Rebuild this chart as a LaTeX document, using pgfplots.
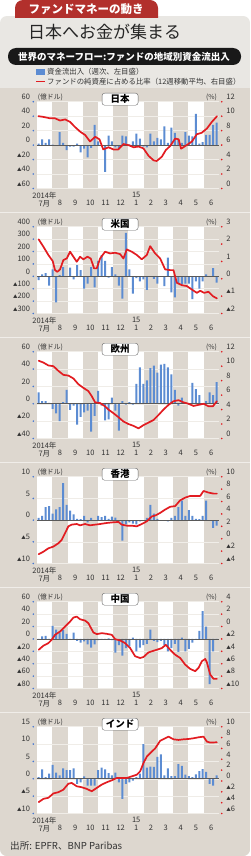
\documentclass[border=0pt]{standalone}
\usepackage{fontspec}
\setmainfont{Noto Sans CJK JP}
\usepackage{pgfplots}
\pgfplotsset{compat=1.18}
\definecolor{bgc}{RGB}{221,215,207}
\definecolor{hdr}{RGB}{233,231,227}
\definecolor{barblue}{RGB}{92,140,210}
\definecolor{dotblue}{RGB}{70,120,210}
\definecolor{linered}{RGB}{226,28,33}
\definecolor{tabred}{RGB}{178,48,44}
\definecolor{gridc}{RGB}{240,237,232}
\definecolor{txt}{RGB}{50,50,50}
\newcommand{\tri}{{\fontsize{4.5}{5}\selectfont ▲}}
\newcommand{\bands}[2]{%
  \fill[white] (axis cs:-0.571,#1) rectangle (axis cs:3.857,#2);
  \fill[white] (axis cs:8.286,#1) rectangle (axis cs:12.571,#2);
  \fill[white] (axis cs:17,#1) rectangle (axis cs:21.286,#2);
  \fill[white] (axis cs:25.714,#1) rectangle (axis cs:30.143,#2);
  \fill[white] (axis cs:34.143,#1) rectangle (axis cs:38.571,#2);
  \fill[white] (axis cs:42.857,#1) rectangle (axis cs:47.286,#2);}
\newcommand{\lgrid}[1]{\pgfplotsinvokeforeach{#1}{%
  \draw[gridc, line width=0.5pt] (axis cs:-0.571,##1) -- (axis cs:51.571,##1);
  \fill[dotblue] ([xshift=-3.4pt]axis cs:-0.571,##1) circle (0.9pt);}}
\newcommand{\rdots}[1]{\pgfplotsinvokeforeach{#1}{%
  \fill[linered] ([xshift=3pt]axis cs:51.571,##1) circle (0.9pt);}}
\newcommand{\zeroline}{\draw[black!65, line width=0.6pt] (axis cs:-0.571,0) -- (axis cs:51.571,0);}
\newcommand{\ptitle}[1]{%
  \node[draw=black!60, fill=white, rounded corners=2.5pt, minimum width=36pt, minimum height=12pt, inner sep=0pt, font=\bfseries\fontsize{9.5}{10}\selectfont] at ([yshift=2.5pt]axis description cs:0.458,1) {#1};
  \node[anchor=base west, inner sep=0pt, font=\fontsize{6.8}{7}\selectfont, text=txt] at ([yshift=2.2pt,xshift=1pt]axis description cs:0,1) {(億ドル)};
  \node[anchor=base east, inner sep=0pt, font=\fontsize{6.8}{7}\selectfont, text=txt] at ([yshift=2.2pt,xshift=-1.5pt]axis description cs:1,1) {(\%)};}
\pgfplotsset{
  mybase/.style={
    anchor=south west, width=182pt, height=86.8pt, scale only axis,
    xmin=-0.571, xmax=51.571, axis line style={draw=none},
    major tick length=0pt, tick style={draw=none}, clip=false,
    tick label style={font=\fontsize{7.5}{8}\selectfont, text=txt},
  },
  leftax/.style={mybase,
    yticklabel style={anchor=base east, inner sep=0pt, xshift=-6.5pt, yshift=2.2pt},
    xtick={1.64,6.07,10.43,14.79,19.14,23.5,27.93,32.14,36.36,40.71,45.07,49.43},
    xticklabels={{2014年\\7月},{\phantom{0}\\8},{\phantom{0}\\9},{\phantom{0}\\10},{\phantom{0}\\11},{\phantom{0}\\12},{15\\1},{\phantom{0}\\2},{\phantom{0}\\3},{\phantom{0}\\4},{\phantom{0}\\5},{\phantom{0}\\6}},
    xticklabel style={anchor=north, inner sep=0pt, yshift=-3pt, align=center},
  },
  rightax/.style={mybase, xtick=\empty, yticklabel pos=right,
    yticklabel style={anchor=base west, inner sep=0pt, xshift=7.5pt, yshift=2.2pt},
  },
  bars/.style={ybar, bar width=2pt, fill=barblue, draw=none},
  redl/.style={linered, line width=1.7pt, line join=round, line cap=round},
}
\begin{document}
\begin{tikzpicture}
\path[use as bounding box] (0,0) rectangle (250pt,-856pt);
\fill[white] (0,0) rectangle (250pt,-856pt);
\begin{scope}
\clip[rounded corners=7pt] (0,-16pt) rectangle (250pt,-856pt);
\fill[hdr] (0,-16pt) rectangle (250pt,-856pt);
\fill[bgc] (0,-87.7pt) rectangle (250pt,-856pt);
\foreach \yy in {212.7,337.7,462.7,587.7,712.7}{\draw[white!55!bgc, line width=1.2pt] (0,-\yy pt) -- (250pt,-\yy pt);}
\end{scope}
\fill[tabred] (15pt,-18pt) {[rounded corners=8pt] -- (15pt,0pt) -- (158pt,0pt)} -- (158pt,-18pt) -- cycle;
\node[text=white, font=\bfseries\fontsize{11.5}{12}\selectfont] at (86pt,-9pt) {ファンドマネーの動き};
\node[anchor=west, inner sep=0pt, font=\fontsize{17}{18}\selectfont, text=black!85] at (28pt,-32pt) {日本へお金が集まる};
\fill[black!90, rounded corners=8pt] (8pt,-48pt) rectangle (241pt,-65pt);
\node[text=white, font=\bfseries\fontsize{9.5}{10}\selectfont] at (124pt,-56.5pt) {世界のマネーフロー:ファンドの地域別資金流出入};
\fill[barblue] (36pt,-69pt) rectangle (45pt,-75pt);
\node[anchor=west, inner sep=0pt, font=\fontsize{7.4}{8}\selectfont, text=txt] at (47pt,-72pt) {資金流出入（週次、左目盛）};
\draw[linered, line width=1.4pt] (36pt,-81.5pt) -- (45pt,-81.5pt);
\node[anchor=west, inner sep=0pt, font=\fontsize{7.4}{8}\selectfont, text=txt] at (47pt,-81.5pt) {ファンドの純資産に占める比率（12週移動平均、右目盛）};
\node[anchor=west, inner sep=0pt, font=\fontsize{9.6}{10}\selectfont, text=txt] at (10pt,-846pt) {出所: EPFR、BNP Paribas};

% ===== Japan =====
\begin{axis}[leftax, at={(36.7pt,-188.5pt)}, ymin=-60, ymax=60, ytick={-60,-40,-20,0,20,40,60},
  yticklabels={\tri 60,\tri 40,\tri 20,0,20,40,60}]
\bands{-60}{60}
\lgrid{-60,-40,-20,0,20,40,60}
\addplot[bars] coordinates {(0,2)(1,8)(2,3)(3,8)(4,0.5)(5,0)(6,18)(7,3)(8,-7)(9,-2)(10,-2)(11,2)(12,-10)(13,-5)(14,-17)(15,-4)(16,28)(17,5)(18,-1)(19,-37)(20,13)(21,5)(22,-3)(23,-6)(24,13)(25,12)(26,1)(27,5)(28,16)(29,9)(30,-2)(31,-3)(32,16)(33,5)(34,10)(35,8)(36,26)(37,3)(38,24)(39,17)(40,7)(41,3)(42,18)(43,13)(44,12)(45,43)(46,2)(47,4)(48,14)(49,14)(50,28)(51,31)};
\zeroline
\end{axis}
\begin{axis}[rightax, at={(36.7pt,-188.5pt)}, ymin=0, ymax=12, ytick={0,2,4,6,8,10,12}, yticklabels={0,2,4,6,8,10,12}]
\rdots{0,2,4,6,8,10,12}
\addplot[redl] coordinates {(-0.1,10.0)(1.3,9.9)(3.3,9.7)(4.7,9.7)(6.1,9.4)(7.6,9.55)(9.0,9.2)(10.4,8.5)(11.9,7.85)(13.3,7.4)(14.7,6.5)(16.2,7.15)(17.4,6.8)(18.5,5.4)(20.0,5.7)(21.4,5.4)(22.8,5.4)(24.3,6.15)(25.7,6.0)(27.2,5.7)(28.6,5.8)(30.0,5.55)(31.5,4.5)(32.9,3.9)(33.8,3.8)(35.3,4.4)(36.4,5.3)(37.7,5.9)(39.1,6.9)(40.1,6.8)(40.8,5.5)(42.4,6.0)(43.9,6.5)(45.3,7.5)(46.7,7.7)(48.2,8.3)(49.6,9.2)(51.1,10.0)};
\ptitle{日本}
\end{axis}

% ===== US =====
\begin{axis}[leftax, at={(36.7pt,-313.5pt)}, ymin=-300, ymax=400, ytick={-300,-200,-100,0,100,200,300,400},
  yticklabels={\tri 300,\tri 200,\tri 100,0,100,200,300,400}]
\bands{-300}{400}
\lgrid{-300,-200,-100,0,100,200,300,400}
\addplot[bars] coordinates {(0,-30)(1,15)(2,25)(3,-75)(4,55)(5,-210)(6,10)(7,75)(8,0)(9,70)(10,-25)(11,90)(12,50)(13,-100)(14,-60)(15,75)(16,-90)(17,125)(18,170)(19,125)(20,-10)(21,75)(22,15)(23,-75)(24,-180)(25,350)(26,55)(27,-140)(28,-15)(29,-40)(30,-25)(31,-110)(32,0)(33,-20)(34,-60)(35,0)(36,-80)(37,150)(38,-130)(39,-170)(40,-60)(41,-65)(42,-60)(43,-60)(44,-185)(45,-40)(46,-100)(47,-40)(48,15)(49,0)(50,65)(51,-50)};
\zeroline
\end{axis}
\begin{axis}[rightax, at={(36.7pt,-313.5pt)}, ymin=-2, ymax=3, ytick={-2,-1,0,1,2,3}, yticklabels={\tri 2,\tri 1,0,1,2,3}]
\rdots{-2,-1,0,1,2,3}
\addplot[redl] coordinates {(0,2.27)(1.34,1.85)(2.77,1.37)(4.02,1.02)(4.68,0.5)(5.35,0.4)(6.12,0.54)(7.07,1.08)(8.03,1.17)(8.99,1.56)(9.94,1.27)(10.9,0.98)(11.85,1.27)(12.81,1.12)(13.96,1.27)(14.91,1.17)(15.87,0.6)(16.63,0.6)(17.59,1.17)(19.02,1.56)(20.46,1.46)(21.89,1.5)(23.33,1.42)(24.28,1.17)(25.24,1.69)(26.67,1.56)(28.11,1.37)(29.54,1.12)(30.98,1.37)(31.93,1.88)(33.37,1.46)(34.8,1.17)(36.23,0.54)(37.67,0.5)(38.62,0.5)(39.58,-0.23)(41.01,-0.37)(42.45,-0.42)(43.88,-0.62)(45.32,-0.81)(46.27,-0.69)(47.42,-0.81)(48.66,-0.75)(49.9,-1.0)(51.05,-1.13)};
\ptitle{米国}
\end{axis}

% ===== Europe =====
\begin{axis}[leftax, at={(36.7pt,-438.5pt)}, ymin=-40, ymax=60, ytick={-40,-20,0,20,40,60},
  yticklabels={\tri 40,\tri 20,0,20,40,60}]
\bands{-40}{60}
\lgrid{-40,-20,0,20,40,60}
\addplot[bars] coordinates {(0,13)(1,3)(2,3)(3,1)(4,-6)(5,-11)(6,-20)(7,2)(8,16)(9,-7)(10,-2)(11,-24)(12,-15)(13,-10)(14,-8)(15,-32)(16,-14)(17,15)(18,-2)(19,-19)(20,-18)(21,7)(22,-8)(23,-31)(24,3)(25,-1)(26,2)(27,-1)(28,23)(29,42)(30,23)(31,27)(32,41)(33,44)(34,36)(35,45)(36,46)(37,42)(38,34)(39,16)(40,-2)(41,7)(42,0)(43,-1)(44,24)(45,17)(46,10)(47,0)(48,3)(49,13)(50,10)(51,25)};
\zeroline
\end{axis}
\begin{axis}[rightax, at={(36.7pt,-438.5pt)}, ymin=0, ymax=12, ytick={0,2,4,6,8,10,12}, yticklabels={0,2,4,6,8,10,12}]
\rdots{0,2,4,6,8,10,12}
\addplot[redl] coordinates {(0,10.75)(1.34,10.5)(2.77,10.1)(4.21,10.0)(5.64,9.35)(7.07,8.8)(8.51,8.7)(9.94,8.3)(11.38,7.5)(12.81,7.0)(14.24,6.55)(15.2,5.85)(16.16,5.0)(17.59,4.9)(19.02,4.45)(19.98,4.0)(21.41,3.5)(22.85,2.95)(24.28,2.35)(25.72,2.0)(27.15,1.75)(28.59,1.4)(30.02,1.85)(31.45,2.2)(32.89,2.55)(34.32,3.25)(35.76,4.0)(37.19,4.65)(38.62,5.15)(40.06,5.3)(41.49,5.0)(42.93,4.8)(44.36,4.5)(45.79,4.65)(47.23,4.8)(48.66,4.45)(49.9,4.45)(51.05,5.15)};
\ptitle{欧州}
\end{axis}

% ===== Hong Kong =====
\begin{axis}[leftax, at={(36.7pt,-563.5pt)}, ymin=-10, ymax=10, ytick={-10,-5,0,5,10},
  yticklabels={\tri 10,\tri 5,0,5,10}]
\bands{-10}{10}
\lgrid{-10,-5,0,5,10}
\addplot[bars] coordinates {(0,0.5)(1,1)(2,3)(3,3.2)(4,1.5)(5,2.5)(6,3)(7,8.5)(8,3.5)(9,2.2)(10,1.3)(11,0.3)(12,0.2)(13,1)(14,-0.5)(15,0.5)(16,0)(17,1)(18,0.7)(19,1)(20,0.3)(21,0.8)(22,0.6)(23,-0.3)(24,-4.7)(25,-1)(26,-0.5)(27,-0.8)(28,-1)(29,-0.3)(30,0)(31,0.5)(32,3.5)(33,1.5)(34,0.3)(35,0)(36,0)(37,-0.3)(38,0.5)(39,1)(40,3)(41,4.5)(42,1)(43,2.3)(44,1)(45,0.3)(46,0.2)(47,1)(48,4.5)(49,0)(50,-1.8)(51,-1.3)};
\zeroline
\end{axis}
\begin{axis}[rightax, at={(36.7pt,-563.5pt)}, ymin=-4, ymax=10, ytick={-4,-2,0,2,4,6,8,10}, yticklabels={\tri 4,\tri 2,0,2,4,6,8,10}]
\rdots{-4,-2,0,2,4,6,8,10}
\addplot[redl] coordinates {(0,-2.5)(1.34,-2.1)(2.77,-1.55)(4.21,-1.27)(5.64,-0.73)(6.6,-0.18)(7.55,0.9)(8.51,2.0)(9.46,2.27)(10.9,2.37)(11.85,2.16)(13.29,2.37)(14.72,2.16)(16.16,2.27)(17.59,2.37)(19.5,2.54)(21.41,2.65)(22.85,2.7)(23.8,2.27)(25.24,2.1)(26.67,2.1)(28.11,2.0)(29.54,2.37)(30.98,2.8)(32.41,3.6)(33.37,3.73)(34.8,4.16)(36.23,4.7)(37.67,5.15)(39.1,5.26)(40.54,6.2)(41.97,6.62)(43.4,6.9)(44.84,6.9)(46.27,6.9)(47.23,7.7)(48.66,7.44)(50.1,7.27)(51.05,7.27)};
\ptitle{香港}
\end{axis}

% ===== China =====
\begin{axis}[leftax, at={(36.7pt,-688.5pt)}, ymin=-80, ymax=60, ytick={-80,-60,-40,-20,0,20,40,60},
  yticklabels={\tri 80,\tri 60,\tri 40,\tri 20,0,20,40,60}]
\bands{-80}{60}
\lgrid{-80,-60,-40,-20,0,20,40,60}
\addplot[bars] coordinates {(0,0)(1,4)(2,5)(3,0)(4,21)(5,15)(6,10)(7,14)(8,8)(9,0)(10,10)(11,-3)(12,-6)(13,-4)(14,-9)(15,-14)(16,-9)(17,-2)(18,-1)(19,0)(20,1)(21,-2)(22,-22)(23,-10)(24,-27)(25,-15)(26,-12)(27,2)(28,-20)(29,-14)(30,-10)(31,-8)(32,15)(33,-3)(34,-5)(35,-3)(36,-10)(37,-20)(38,-15)(39,-8)(40,-21)(41,2)(42,-20)(43,-16)(44,-6)(45,0)(46,13)(47,45)(48,20)(49,-73)(50,-20)(51,0)};
\zeroline
\end{axis}
\begin{axis}[rightax, at={(36.7pt,-688.5pt)}, ymin=-10, ymax=4, ytick={-10,-8,-6,-4,-2,0,2,4}, yticklabels={\tri 10,\tri 8,\tri 6,\tri 4,\tri 2,0,2,4}]
\rdots{-10,-8,-6,-4,-2,0,2,4}
\addplot[redl] coordinates {(0,-3.75)(1.34,-3.1)(2.77,-2.68)(3.73,-2.14)(4.68,-1.34)(6.12,-0.81)(7.55,0)(8.99,0.8)(9.94,1.44)(10.9,1.6)(11.85,1.17)(13.29,0.96)(14.24,0.53)(15.68,-0.97)(16.63,-1.23)(18.07,-1.07)(19.5,-1.18)(20.94,-1.34)(21.89,-2.04)(23.33,-2.25)(24.76,-2.68)(26.2,-3.48)(27.63,-4.8)(29.06,-5.08)(30.02,-4.92)(31.45,-4.18)(32.41,-4.0)(33.84,-3.75)(35.28,-3.48)(36.42,-2.95)(37.67,-3.75)(39.1,-4.55)(40.54,-5.08)(41.97,-6.15)(43.4,-6.84)(44.84,-7.2)(45.79,-6.68)(46.75,-5.6)(47.71,-5.24)(48.18,-5.78)(49.14,-7.75)(50.1,-8.45)(51.05,-8.45)};
\ptitle{中国}
\end{axis}

% ===== India =====
\begin{axis}[leftax, at={(36.7pt,-813.5pt)}, ymin=-10, ymax=15, ytick={-10,-5,0,5,10,15},
  yticklabels={\tri 10,\tri 5,0,5,10,15}]
\bands{-10}{15}
\lgrid{-10,-5,0,5,10,15}
\addplot[bars] coordinates {(0,0.5)(1,2.7)(2,0.5)(3,1.5)(4,4)(5,1.8)(6,1)(7,3)(8,2.5)(9,2.5)(10,3)(11,-1.5)(12,-1)(13,0.7)(14,-2)(15,-2)(16,-2)(17,2.5)(18,3.2)(19,2.7)(20,1.6)(21,1)(22,1.8)(23,-1)(24,-5.8)(25,-1.5)(26,-1)(27,-0.5)(28,0.5)(29,1.5)(30,10)(31,3.2)(32,3.5)(33,3.4)(34,6.3)(35,7)(36,1)(37,3)(38,0.8)(39,0.8)(40,4.2)(41,3.7)(42,1.2)(43,0.8)(44,0.5)(45,1.3)(46,2.2)(47,2.8)(48,2)(49,-1.5)(50,-2)(51,1)};
\zeroline
\end{axis}
\begin{axis}[rightax, at={(36.7pt,-813.5pt)}, ymin=-6, ymax=10, ytick={-6,-4,-2,0,2,4,6,8,10}, yticklabels={\tri 6,\tri 4,\tri 2,0,2,4,6,8,10}]
\rdots{-6,-4,-2,0,2,4,6,8,10}
\addplot[redl] coordinates {(0,-3.9)(1.34,-3.3)(2.77,-3.1)(4.21,-2.3)(5.64,-2.07)(7.07,-1.6)(8.51,-0.5)(9.46,-0.37)(10.9,-0.98)(12.33,-1.16)(13.77,-1.46)(15.2,-1.9)(16.63,-1.28)(18.07,-0.67)(19.5,-0.24)(20.94,0.12)(22.37,0.55)(23.8,0.55)(25.24,0.55)(26.67,0.85)(28.11,1.16)(29.06,1.77)(30.02,3.3)(30.98,4.5)(32.41,5.43)(33.37,6.0)(34.8,7.4)(36.23,7.87)(37.19,8.17)(38.62,7.68)(40.06,7.56)(41.49,7.68)(42.93,7.74)(44.36,7.87)(45.79,8.05)(47.23,8.17)(48.18,7.26)(49.14,7.07)(51.05,7.13)};
\ptitle{インド}
\end{axis}
\end{tikzpicture}
\end{document}
